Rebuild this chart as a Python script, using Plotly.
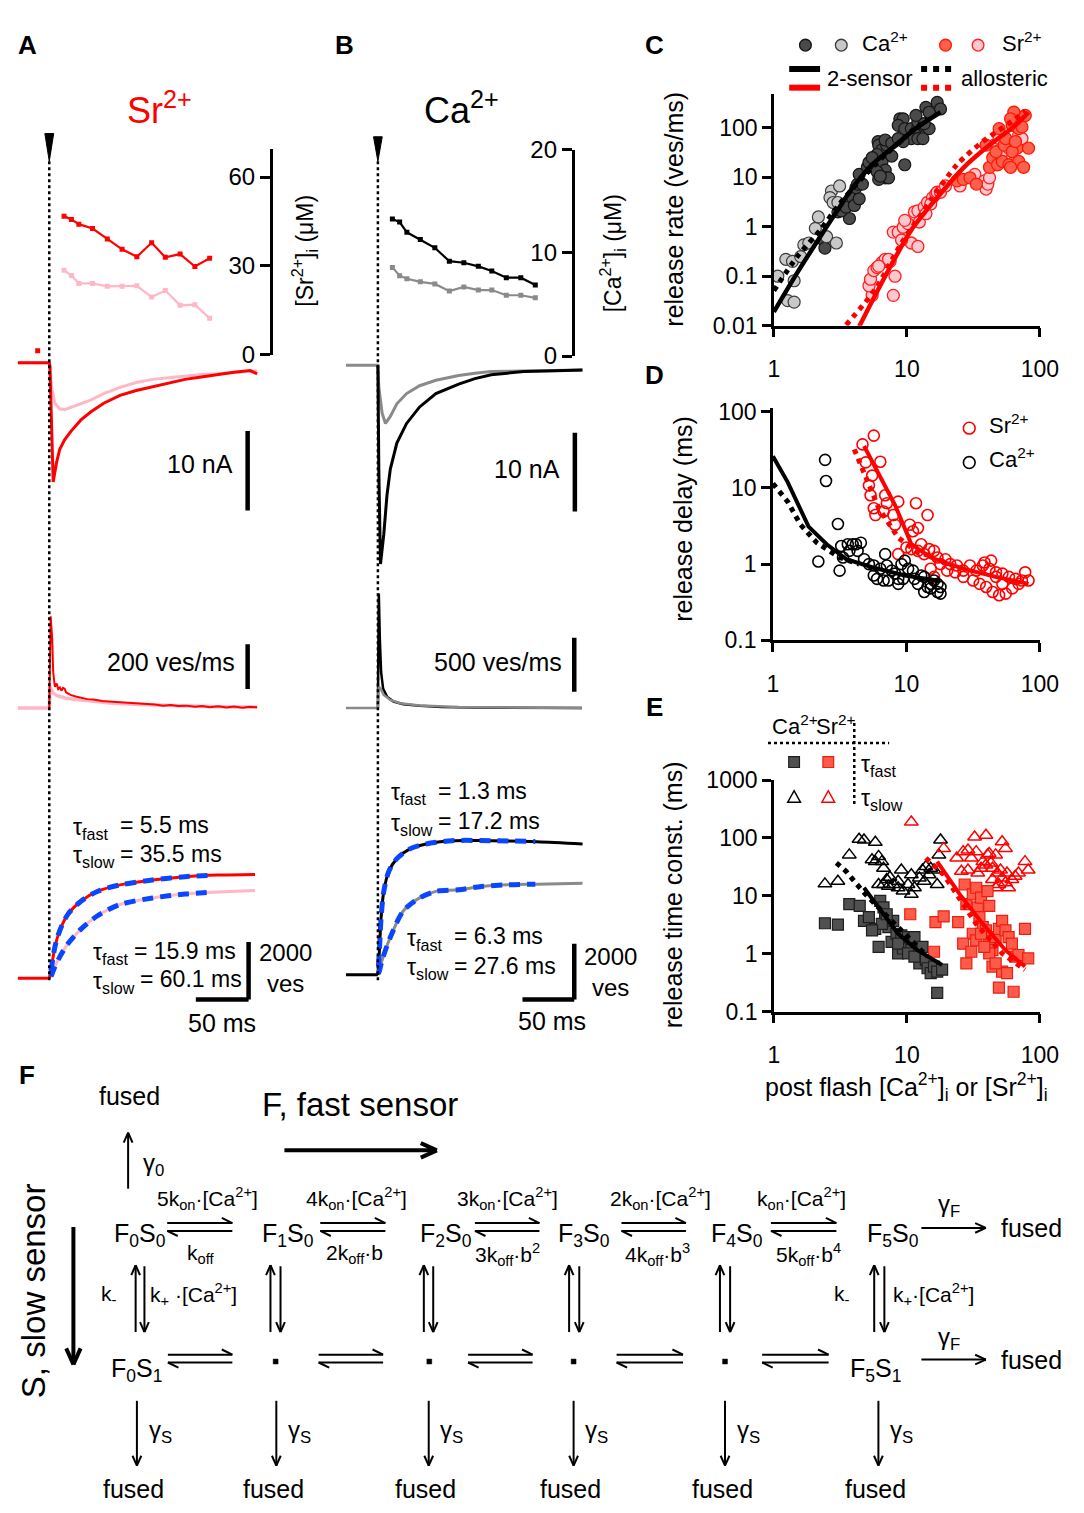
import math
import plotly.graph_objects as go

W, H = 1084, 1513
FONT = "Liberation Sans, Arial, Helvetica, sans-serif"
RED = "#ff0000"
PINK = "#ffb7c5"
GRAY = "#8a8a8a"
BLUE = "#0a46ff"

# ---------------- Panel A / B : [X2+]i time course (uM) ----------------
conc_t = [14, 21, 28, 41, 55, 69, 83, 97, 110, 124, 138, 152]
sr_conc_hi = [46.8, 45.7, 44.1, 42.6, 39.1, 35.6, 33.1, 37.8, 32.9, 34.0, 29.8, 32.6]
sr_conc_lo = [28.5, 26.8, 24.1, 24.1, 23.1, 23.1, 23.3, 19.5, 21.7, 16.7, 16.9, 12.3]
ca_conc_hi = [13.3, 13.0, 12.0, 11.3, 10.5, 9.2, 9.05, 8.7, 8.25, 7.6, 7.6, 6.9]
ca_conc_lo = [8.6, 7.8, 7.5, 7.2, 7.0, 6.3, 6.7, 6.4, 6.4, 5.9, 5.9, 5.65]

# ---------------- current traces (nA) ----------------
sr_cur_hi_t = [-30, 0, 0.6, 2.2, 3.7, 6.8, 9.9, 14.5, 20.7, 30, 39.2, 51.6, 67, 82.4, 97.9, 113.3, 128.7, 144.1, 159.6, 175, 190.4, 197]
sr_cur_hi = [0, 0, -0.5, -7.2, -15.0, -12.6, -10.9, -9.7, -8.6, -7.2, -6.2, -5.1, -4.1, -3.5, -3.0, -2.5, -2.1, -1.8, -1.5, -1.2, -1.0, -1.4]
sr_cur_lo_t = [-30, 0, 0.6, 2.2, 5.3, 9.9, 14.5, 20.7, 30, 39.2, 51.6, 67, 82.4, 97.9, 113.3, 128.7, 144.1, 159.6, 175, 197]
sr_cur_lo = [0, 0, -0.3, -3.1, -5.1, -5.8, -5.9, -5.6, -5.1, -4.7, -3.9, -3.1, -2.5, -2.1, -1.9, -1.7, -1.5, -1.4, -1.2, -1.0]
ca_cur_hi_t = [0, 0.9, 2.5, 5.7, 8.8, 12, 18.3, 27.7, 40.3, 56, 78, 93.7, 109.4, 140.9, 172.3, 197.5]
ca_cur_hi = [0, -13.2, -25.3, -21.5, -16.5, -13.2, -9.9, -7.4, -5.3, -3.6, -2.4, -1.7, -1.2, -0.8, -0.7, -0.6]
ca_cur_lo_t = [-31, 0, 0.9, 4.1, 7.3, 12, 18.3, 27.7, 40.3, 56, 78, 93.7, 109.4, 140.9, 197.5]
ca_cur_lo = [0, 0, -2.8, -6.1, -7.4, -6.5, -4.9, -3.6, -2.6, -1.9, -1.3, -1.0, -0.8, -0.7, -0.6]
pre_mark_t = [-11]
sr_pre_mark = [1.5]
ca_pre_mark = [2.4]

# ---------------- release rate traces (ves/ms) ----------------
sr_rate_hi_t = [0, 0.6, 1.3, 2.8, 3.7, 5.3, 7, 8.4, 10, 11.5, 13, 14.5, 16, 17.6, 20.7, 25, 30, 36, 42, 50, 60, 70, 80, 90, 100, 108, 115, 122, 130, 138, 145, 152, 160, 168, 175, 183, 190, 197]
sr_rate_hi = [0, 250, 410, 307, 161, 95, 110, 85, 92, 78, 90, 86, 70, 66, 58, 52, 45, 40, 38, 32, 28, 25, 20, 18, 16, 10, 14, 9, 11, 6, 9, 4, 8, 3, 7, 2, 6, 4]
sr_rate_lo_t = [-30, 0, 0.8, 2, 4, 8, 15, 25, 40, 60, 80, 100, 130, 160, 197]
sr_rate_lo = [0, 0, 95, 80, 65, 55, 45, 38, 30, 22, 17, 13, 9, 6, 4]
ca_rate_hi_t = [0, 0.9, 1.9, 3.1, 5, 8.8, 15.1, 24.5, 40.3, 62, 94, 141, 197]
ca_rate_hi = [0, 1061, 637, 334, 182, 106, 61, 36, 21, 9, 6, 2, 0]
ca_rate_lo_t = [-31, 0, 0.9, 2.5, 5.7, 12, 21.4, 40.3, 78, 120, 197]
ca_rate_lo = [0, 0, 197, 182, 121, 76, 45, 24, 9, 4, 0]

# ---------------- cumulative release (vesicles) ----------------
pre_t_sr = [-30, 0]
pre_t_ca = [-31, 0]
pre_zero = [0, 0]
sr_cum_hi_t = [0, 2.2, 5.3, 9.9, 17.6, 30, 45.4, 67, 97.9, 128.7, 159.6, 195]
sr_cum_hi = [0, 400, 1084, 1655, 2226, 2683, 3025, 3253, 3425, 3539, 3596, 3619]
sr_cum_lo_t = [0, 2.2, 5.3, 9.9, 17.6, 30, 45.4, 67, 97.9, 128.7, 159.6, 195]
sr_cum_lo = [0, 114, 400, 743, 1199, 1712, 2169, 2568, 2797, 2934, 3002, 3059]
sr_fit_t = [1.5, 2.2, 5.3, 9.9, 17.6, 30, 45.4, 67, 97.9, 128.7, 155]
sr_fit_hi = [260, 400, 1084, 1655, 2226, 2683, 3025, 3253, 3425, 3539, 3592]
sr_fit_lo = [60, 114, 400, 743, 1199, 1712, 2169, 2568, 2797, 2934, 2995]
ca_cum_hi_t = [0, 1.5, 3.1, 5.7, 10.4, 18.3, 30.9, 46.6, 71.8, 109.4, 153.6, 197.6]
ca_cum_hi = [0, 883, 2060, 3003, 3710, 4181, 4533, 4710, 4828, 4828, 4793, 4710]
ca_cum_lo_t = [0, 1.5, 4.1, 12, 24.5, 40.3, 56, 78, 100, 125.3, 153.6, 197.6]
ca_cum_lo = [0, 150, 530, 1355, 2297, 2768, 3003, 3062, 3180, 3239, 3262, 3297]
ca_fit_hi_t = [0.5, 1.5, 3.1, 5.7, 10.4, 18.3, 30.9, 46.6, 71.8, 109.4, 152]
ca_fit_hi = [300, 883, 2060, 3003, 3710, 4181, 4533, 4710, 4828, 4828, 4795]
ca_fit_lo_t = [0.5, 1.5, 4.1, 12, 24.5, 40.3, 56, 78, 100, 125.3, 152]
ca_fit_lo = [40, 150, 530, 1355, 2297, 2768, 3003, 3062, 3180, 3239, 3260]

# ---------------- Panel C : release rate vs post-flash concentration ----------------
ca_rate_dark_x = [2.36, 2.42, 3.70, 3.03, 3.21, 3.49, 3.91, 4.03, 4.38, 4.14, 4.26, 4.63, 4.38, 5.05, 5.19, 6.07, 6.14, 6.50, 7.06, 6.87, 5.97, 5.48, 6.50, 6.87, 5.97, 6.87, 6.14, 7.28, 6.31, 9.64, 7.69, 8.85, 9.38, 8.61, 9.64, 10.8, 12.1, 11.4, 10.8, 12.1, 13.2, 13.5, 14.7, 12.1, 13.5, 13.9, 16.9, 17.9, 14.7, 11.7, 9.38, 7.69, 8.61]
ca_rate_dark_y = [0.54, 0.37, 1.47, 2.0, 2.1, 2.5, 3.9, 2.7, 3.7, 6.2, 7.3, 7.3, 11.5, 16, 20, 53, 45, 36, 45, 57, 29, 25, 21, 14, 13, 9.8, 9.1, 9.8, 10.6, 18, 27, 153, 153, 113, 97, 97, 105, 77, 61, 61, 61, 113, 97, 131, 122, 261, 329, 242, 208, 179, 53, 49, 61]
ca_rate_light_x = [1.07, 1.23, 1.38, 1.42, 1.27, 1.42, 1.59, 1.68, 2.05, 2.16, 2.49, 2.95, 2.71, 3.12, 2.64, 2.79, 3.03, 1.83]
ca_rate_light_y = [0.10, 0.22, 0.20, 0.081, 0.032, 0.030, 0.25, 0.43, 0.93, 1.58, 0.63, 0.47, 5.3, 6.7, 3.9, 3.1, 3.1, 0.47]
sr_rate_pink_x = [5.48, 5.19, 5.33, 5.64, 5.97, 6.50, 6.87, 7.48, 7.91, 8.61, 9.38, 10.2, 10.8, 12.1, 11.4, 12.1, 13.5, 14.3, 15.6, 16.5, 16.9, 8.14, 7.91, 6.14, 7.28, 9.12, 9.64, 12.4, 13.9, 15.1, 17.9, 19.5, 25.1, 32.4, 38.4, 39.4, 40.6, 41.8, 49.4, 52.3, 58.5, 65.5, 69.3, 73.3, 45.4, 49.4]
sr_rate_pink_y = [0.041, 0.064, 0.087, 0.13, 0.15, 0.19, 0.22, 0.20, 0.78, 0.78, 0.98, 1.16, 0.47, 0.40, 2.0, 2.1, 2.5, 3.1, 3.9, 4.6, 5.0, 0.10, 0.041, 0.16, 0.22, 0.54, 1.35, 1.25, 1.84, 2.9, 5.0, 6.7, 6.7, 11.5, 8.5, 5.8, 7.3, 9.8, 21, 33, 39, 49, 72, 61, 45, 61]
sr_rate_red_x = [23.8, 26.6, 29.8, 33.3, 41.8, 44.2, 48.1, 52.3, 58.5, 46.8, 53.8, 61.9, 65.5, 69.3, 73.3, 77.6, 63.7, 60.2, 67.4, 82.1, 39.4, 55.3, 61.9, 69.3, 75.4, 60.2, 65.5, 49.4]
sr_rate_red_y = [8.5, 9.1, 9.8, 7.3, 16, 25, 18, 21, 18, 33, 45, 113, 131, 97, 105, 179, 208, 153, 39, 39, 45, 61, 33, 21, 16, 16, 53, 97]
ca_rate_fit2s_x = [1.0, 1.5, 2.23, 2.95, 3.91, 5.48, 7.69, 12.1, 17.9]
ca_rate_fit2s_y = [0.019, 0.118, 0.63, 1.99, 6.2, 18.1, 38.8, 105, 208]
ca_rate_allo_x = [1.0, 1.5, 2.23, 3.12, 4.63, 6.87, 10.8, 14.3]
ca_rate_allo_y = [0.051, 0.25, 0.86, 2.9, 9.8, 28.6, 83, 153]
sr_rate_fit2s_x = [4.38, 6.87, 10.8, 16.9, 26.6, 41.8, 65.5, 82.1]
sr_rate_fit2s_y = [0.0096, 0.10, 0.86, 3.9, 15.6, 45, 113, 208]
sr_rate_allo_x = [3.49, 5.8, 9.12, 15.1, 23.8, 37.2, 65.5, 77.6]
sr_rate_allo_y = [0.0103, 0.055, 0.47, 3.4, 18, 53, 153, 224]

# ---------------- Panel D : release delay ----------------
sr_delay_x = [4.69, 4.69, 5.70, 4.96, 6.38, 5.24, 5.54, 5.39, 5.70, 5.86, 6.94, 7.14, 8.69, 7.99, 6.75, 8.22, 8.69, 10.6, 11.2, 11.8, 12.2, 14.4, 10.9, 10.0, 12.9, 12.2, 13.6, 14.8, 16.1, 17.1, 18.0, 19.6, 21.3, 23.9, 26.7, 29.9, 33.4, 37.4, 41.9, 46.9, 52.4, 58.6, 65.6, 73.4, 82.2, 77.6, 26.7, 31.6, 35.4, 39.6, 44.3, 49.5, 55.5, 62.1, 69.4, 38.5, 43.1, 46.9, 52.4, 23.2, 20.2, 15.2, 16.1]
sr_delay_y = [116, 37.2, 48.5, 21.6, 22.0, 10.8, 14.5, 8.0, 5.4, 4.4, 8.0, 6.3, 6.6, 4.4, 4.9, 3.29, 1.35, 3.29, 2.70, 6.3, 2.98, 4.4, 1.57, 1.65, 1.82, 1.49, 1.35, 1.57, 1.49, 1.22, 1.0, 1.16, 1.0, 0.96, 0.82, 0.96, 0.82, 0.96, 0.87, 0.78, 0.75, 0.68, 0.64, 0.61, 0.61, 0.78, 0.68, 0.61, 0.55, 0.50, 0.43, 0.39, 0.41, 0.48, 0.55, 1.05, 1.11, 0.68, 0.55, 0.78, 0.82, 0.87, 0.68]
ca_delay_x = [2.46, 2.50, 3.07, 2.19, 3.16, 3.25, 3.64, 3.96, 4.19, 4.56, 4.31, 3.74, 3.35, 4.82, 5.24, 5.70, 6.03, 6.38, 6.94, 7.14, 7.77, 8.22, 8.69, 9.19, 9.72, 10.3, 11.2, 11.5, 12.2, 12.9, 13.6, 14.4, 15.2, 16.1, 17.1, 18.0, 13.6, 15.2, 17.1, 18.0, 6.75, 7.34, 8.69, 9.46, 5.70]
ca_delay_y = [23.3, 12.3, 3.36, 1.08, 0.82, 1.73, 1.82, 1.82, 1.82, 1.91, 1.49, 1.49, 1.22, 1.16, 1.0, 0.96, 0.64, 0.87, 1.35, 0.96, 0.82, 0.75, 0.64, 1.0, 1.11, 0.87, 0.82, 0.64, 0.55, 0.71, 0.68, 0.50, 0.55, 0.61, 0.55, 0.50, 0.43, 0.48, 0.43, 0.41, 0.61, 0.61, 0.55, 0.64, 0.71]
ca_delay_fit2s_x = [1.0, 1.29, 1.85, 2.53, 3.54, 5.54, 9.72, 18.0]
ca_delay_fit2s_y = [26, 11.9, 3.1, 1.82, 1.16, 0.91, 0.71, 0.60]
ca_delay_allo_x = [1.0, 1.29, 1.61, 2.13, 3.16, 4.43]
ca_delay_allo_y = [11.4, 6.6, 3.29, 1.91, 1.22, 1.0]
sr_delay_fit2s_x = [4.82, 6.21, 8.22, 10.9, 15.2, 26.7, 46.9, 82.2]
sr_delay_fit2s_y = [35.4, 15.2, 5.96, 1.82, 1.22, 0.87, 0.68, 0.55]
sr_delay_allo_x = [4.07, 4.96, 6.21, 8.69, 12.2, 15.2]
sr_delay_allo_y = [32, 14.5, 5.4, 2.22, 1.41, 1.29]

# ---------------- Panel E : release time constants ----------------
ca_tslow_x = [2.42, 3.03, 3.69, 4.37, 4.76, 5.79, 5.79, 6.13, 5.47, 6.48, 6.67, 6.13, 6.67, 7.05, 7.46, 7.89, 8.59, 9.08, 9.35, 10.2, 10.8, 11.4, 12.4, 13.1, 13.9, 14.7, 15.1, 16.0, 16.9, 17.4, 17.9, 13.5, 10.8, 7.26, 8.59]
ca_tslow_y = [16.1, 17.9, 51, 95, 92, 84, 39, 48, 42, 39, 30, 15.7, 15.7, 19.1, 21, 15.7, 17.9, 28, 12.1, 15.7, 23.2, 13.8, 20.4, 28, 32, 23.2, 30, 28, 15.7, 51, 92, 17.9, 10.6, 14.7, 13.8]
sr_tslow_x = [10.8, 18.9, 23.7, 26.5, 28.8, 32.3, 39.3, 33.2, 41.6, 37.2, 46.5, 52.0, 55.1, 77.3, 81.7, 25.7, 28.8, 34.1, 39.3, 44.0, 47.9, 52.0, 55.1, 58.2, 61.6, 65.2, 69.0, 44.0, 49.2, 40.4, 30.5, 36.1, 42.8, 50.6, 56.6, 46.5]
sr_tslow_y = [188, 66, 45, 58, 62, 104, 111, 58, 54, 39, 51, 86, 66, 39, 28, 26.5, 28, 24.8, 34, 30, 24.8, 20.4, 16.8, 13.8, 19.1, 21.8, 24.8, 19.1, 15.7, 51, 45, 30, 37, 28, 24.8, 13.8]
ca_tfast_x = [2.42, 3.03, 3.69, 4.42, 4.76, 5.18, 5.79, 6.13, 6.30, 6.67, 6.86, 7.26, 7.67, 7.89, 8.35, 8.59, 9.08, 9.35, 10.2, 10.8, 11.4, 12.0, 12.4, 13.1, 13.9, 14.3, 15.1, 16.0, 16.9, 18.4, 16.9, 6.48, 5.47, 7.05, 8.59, 10.2, 11.4]
ca_tfast_y = [3.36, 3.19, 7.2, 6.7, 3.7, 4.3, 2.69, 1.31, 8.2, 6.3, 4.3, 2.87, 1.60, 3.7, 2.21, 1.01, 2.07, 1.23, 1.94, 1.15, 1.94, 1.01, 0.68, 1.31, 0.78, 0.56, 0.46, 0.60, 0.49, 0.53, 0.21, 3.27, 2.52, 4.8, 1.49, 1.01, 0.89]
sr_tfast_x = [10.6, 16.4, 18.9, 16.0, 24.3, 27.2, 28.0, 31.3, 33.2, 34.1, 36.1, 40.4, 41.6, 35.1, 37.2, 31.3, 26.5, 28.0, 30.5, 33.2, 39.3, 41.6, 44.0, 46.5, 49.2, 52.0, 55.1, 58.2, 61.6, 65.2, 69.0, 77.3, 81.7, 41.6, 44.0, 52.0, 56.6, 49.2, 63.4, 46.5, 38.2, 36.1]
sr_tfast_y = [4.8, 3.5, 4.4, 1.08, 3.5, 15.7, 7.2, 10.6, 13.8, 6.3, 9.3, 12.1, 6.7, 4.3, 2.87, 2.21, 1.49, 0.68, 1.08, 1.70, 2.52, 1.49, 1.15, 1.94, 2.69, 3.7, 2.52, 1.94, 1.49, 0.89, 0.95, 2.69, 0.83, 1.01, 0.60, 0.49, 0.46, 0.26, 0.22, 0.68, 1.31, 2.21]
ca_tau_fit2s_x = [4.76, 6.13, 8.59, 12.0, 18.4]
ca_tau_fit2s_y = [13.8, 6.3, 2.21, 1.15, 0.64]
ca_tau_allo_x = [2.95, 3.49, 4.02, 4.89, 6.86, 10.8, 14.3]
ca_tau_allo_y = [37, 26.5, 17.9, 10.6, 4.8, 1.70, 0.89]
sr_tau_fit2s_x = [16.9, 25.0, 37.2, 55.1, 77.3]
sr_tau_fit2s_y = [39, 10.6, 3.27, 1.15, 0.60]
sr_tau_allo_x = [13.9, 18.9, 23.7, 33.2, 52.0, 77.3]
sr_tau_allo_y = [45, 23.2, 10.6, 3.27, 1.01, 0.53]

log_ticks = [0.01, 0.1, 1, 10, 100, 1000]
log_tick_text = ["0.01", "0.1", "1", "10", "100", "1000"]

# =====================================================================
fig = go.Figure()


def add_line(x, y, xa, ya, color, width, dash=None, shape="linear"):
    ln = dict(color=color, width=width, shape=shape)
    if shape == "spline":
        ln["smoothing"] = 0.8
    if dash:
        ln["dash"] = dash
    fig.add_trace(go.Scatter(x=x, y=y, xaxis=xa, yaxis=ya, mode="lines", line=ln, hoverinfo="skip"))


def add_pts(x, y, xa, ya, symbol, size, fill, edge, lw):
    fig.add_trace(go.Scatter(x=x, y=y, xaxis=xa, yaxis=ya, mode="markers", cliponaxis=False,
                             marker=dict(symbol=symbol, size=size, color=fill, line=dict(color=edge, width=lw)),
                             hoverinfo="skip"))


def add_conc(x, y, ya, color):
    fig.add_trace(go.Scatter(x=x, y=y, xaxis="x" if ya == "y" else "x2", yaxis=ya, mode="lines+markers",
                             line=dict(color=color, width=2.2),
                             marker=dict(symbol="square", size=5, color=color), hoverinfo="skip"))


# ---- Panel A (Sr) ----
add_conc(conc_t, sr_conc_lo, "y", PINK)
add_conc(conc_t, sr_conc_hi, "y", RED)
add_line(sr_cur_lo_t, sr_cur_lo, "x", "y2", PINK, 3)
add_line(sr_cur_hi_t, sr_cur_hi, "x", "y2", RED, 3)
add_pts(pre_mark_t, sr_pre_mark, "x", "y2", "square", 5, RED, RED, 0)
add_line(sr_rate_lo_t, sr_rate_lo, "x", "y3", PINK, 3.5)
add_line(sr_rate_hi_t, sr_rate_hi, "x", "y3", RED, 2)
add_line(sr_cum_lo_t, sr_cum_lo, "x", "y4", PINK, 3, shape="spline")
add_line(pre_t_sr, pre_zero, "x", "y4", RED, 3)
add_line(sr_cum_hi_t, sr_cum_hi, "x", "y4", RED, 3, shape="spline")
add_line(sr_fit_t, sr_fit_hi, "x", "y4", BLUE, 5, dash="11px,7px", shape="spline")
add_line(sr_fit_t, sr_fit_lo, "x", "y4", BLUE, 5, dash="11px,7px", shape="spline")

# ---- Panel B (Ca) ----
add_conc(conc_t, ca_conc_lo, "y5", GRAY)
add_conc(conc_t, ca_conc_hi, "y5", "black")
add_line(ca_cur_lo_t, ca_cur_lo, "x2", "y6", GRAY, 3)
add_line(ca_cur_hi_t, ca_cur_hi, "x2", "y6", "black", 3)
add_pts(pre_mark_t, ca_pre_mark, "x2", "y6", "square", 5, GRAY, GRAY, 0)
add_line(ca_rate_hi_t, ca_rate_hi, "x2", "y7", "black", 2.5)
add_line(ca_rate_lo_t, ca_rate_lo, "x2", "y7", GRAY, 2.5)
add_line(ca_cum_lo_t, ca_cum_lo, "x2", "y8", GRAY, 3, shape="spline")
add_line(pre_t_ca, pre_zero, "x2", "y8", "black", 3)
add_line(ca_cum_hi_t, ca_cum_hi, "x2", "y8", "black", 3, shape="spline")
add_line(ca_fit_hi_t, ca_fit_hi, "x2", "y8", BLUE, 5, dash="11px,7px", shape="spline")
add_line(ca_fit_lo_t, ca_fit_lo, "x2", "y8", BLUE, 5, dash="11px,7px", shape="spline")

# ---- Panel C ----
DARK_F, DARK_E = "#4a4a4a", "#151515"
LIGHT_F, LIGHT_E = "#c8c8c8", "#3c3c3c"
SRR_F, SRR_E = "#ff5f4f", "#ff1a00"
SRP_F, SRP_E = "#ffc8cf", "#ff2020"
add_pts(ca_rate_dark_x, ca_rate_dark_y, "x3", "y9", "circle", 12, DARK_F, DARK_E, 1.2)
add_pts(ca_rate_light_x, ca_rate_light_y, "x3", "y9", "circle", 12, LIGHT_F, LIGHT_E, 1.2)
add_pts(sr_rate_pink_x, sr_rate_pink_y, "x3", "y9", "circle", 12, SRP_F, SRP_E, 1.3)
add_pts(sr_rate_red_x, sr_rate_red_y, "x3", "y9", "circle", 12, SRR_F, SRR_E, 1.3)
add_line(ca_rate_fit2s_x, ca_rate_fit2s_y, "x3", "y9", "black", 4.5, shape="spline")
add_line(ca_rate_allo_x, ca_rate_allo_y, "x3", "y9", "black", 5, dash="dot", shape="spline")
add_line(sr_rate_fit2s_x, sr_rate_fit2s_y, "x3", "y9", RED, 4.5, shape="spline")
add_line(sr_rate_allo_x, sr_rate_allo_y, "x3", "y9", RED, 5, dash="dot", shape="spline")

# ---- Panel D ----
add_pts(sr_delay_x, sr_delay_y, "x4", "y10", "circle-open", 11, RED, RED, 1.6)
add_pts(ca_delay_x, ca_delay_y, "x4", "y10", "circle-open", 11, "black", "black", 1.6)
add_line(ca_delay_fit2s_x, ca_delay_fit2s_y, "x4", "y10", "black", 4)
add_line(ca_delay_allo_x, ca_delay_allo_y, "x4", "y10", "black", 5, dash="dot")
add_line(sr_delay_fit2s_x, sr_delay_fit2s_y, "x4", "y10", RED, 4)
add_line(sr_delay_allo_x, sr_delay_allo_y, "x4", "y10", RED, 5, dash="dot")

# ---- Panel E ----
add_pts(ca_tslow_x, ca_tslow_y, "x5", "y11", "triangle-up-open", 12, "black", "black", 1.5)
add_pts(sr_tslow_x, sr_tslow_y, "x5", "y11", "triangle-up-open", 12, RED, RED, 1.5)
add_pts(ca_tfast_x, ca_tfast_y, "x5", "y11", "square", 11, "#505050", "#1e1e1e", 1.2)
add_pts(sr_tfast_x, sr_tfast_y, "x5", "y11", "square", 11, "#ff5a4a", "#e82010", 1.2)
add_line(ca_tau_allo_x, ca_tau_allo_y, "x5", "y11", "black", 5, dash="dot")
add_line(ca_tau_fit2s_x, ca_tau_fit2s_y, "x5", "y11", "black", 4)
add_line(sr_tau_allo_x, sr_tau_allo_y, "x5", "y11", RED, 5, dash="dot")
add_line(sr_tau_fit2s_x, sr_tau_fit2s_y, "x5", "y11", RED, 4)

# =====================================================================
shapes = []
annotations = []


def P(x, y):
    return x / W, 1 - y / H


def seg(x0, y0, x1, y1, w=2.0, color="black", dash=None):
    a, b = P(x0, y0)
    c, d = P(x1, y1)
    ln = dict(color=color, width=w)
    if dash:
        ln["dash"] = dash
    shapes.append(dict(type="line", xref="paper", yref="paper", x0=a, y0=b, x1=c, y1=d, line=ln))


def arrow(x0, y0, x1, y1, w=2.0, head=10, spread=0.42, barbs=(1, 1)):
    seg(x0, y0, x1, y1, w)
    ang = math.atan2(y1 - y0, x1 - x0)
    for s, b in zip((1, -1), barbs):
        if b:
            a = ang + math.pi - s * spread
            seg(x1, y1, x1 + head * math.cos(a), y1 + head * math.sin(a), w)


def harpoons(x0, x1, yt, yb):
    arrow(x0, yt, x1, yt, 2.0, 12, 0.45, barbs=(0, 1))
    arrow(x1, yb, x0, yb, 2.0, 12, 0.45, barbs=(0, 1))


def txt(x, y, s, size=24, color="black", xanchor="center", yanchor="middle", angle=0, align="center"):
    a, b = P(x, y)
    annotations.append(dict(x=a, y=b, xref="paper", yref="paper", text=s, showarrow=False,
                            font=dict(size=size, color=color, family=FONT), align=align,
                            xanchor=xanchor, yanchor=yanchor, textangle=angle))


def circ(x, y, r, fill, edge, lw=1.3):
    a, b = P(x - r, y + r)
    c, d = P(x + r, y - r)
    shapes.append(dict(type="circle", xref="paper", yref="paper", x0=a, y0=b, x1=c, y1=d,
                       fillcolor=fill, line=dict(color=edge, width=lw)))


def rect(x, y, r, fill, edge, lw=1.2):
    a, b = P(x - r, y + r)
    c, d = P(x + r, y - r)
    shapes.append(dict(type="rect", xref="paper", yref="paper", x0=a, y0=b, x1=c, y1=d,
                       fillcolor=fill, line=dict(color=edge, width=lw)))


def tri(x, y, r, edge):
    pts = [P(x - r, y + r * 0.8), P(x + r, y + r * 0.8), P(x, y - r)]
    path = "M {:.5f},{:.5f} L {:.5f},{:.5f} L {:.5f},{:.5f} Z".format(*pts[0], *pts[1], *pts[2])
    shapes.append(dict(type="path", xref="paper", yref="paper", path=path, line=dict(color=edge, width=1.5)))


# ---- flash markers (time 0) ----
for xr, ytop in (("x", 121.7), ("x2", 125)):
    yb = 1 - 150 / H
    yt = 1 - ytop / H
    shapes.append(dict(type="path", xref=xr, yref="paper",
                       path="M -4.2,{0:.5f} L 4.2,{0:.5f} L 0,{1:.5f} Z".format(yt, yb),
                       fillcolor="black", line=dict(color="black", width=1)))
    shapes.append(dict(type="line", xref=xr, yref="paper", x0=0, x1=0, y0=yb, y1=1 - 985 / H,
                       line=dict(color="black", width=2.5, dash="dot")))


def bar(xr, yr, x0, y0, x1, y1, w=4.5):
    shapes.append(dict(type="line", xref=xr, yref=yr, x0=x0, y0=y0, x1=x1, y1=y1,
                       line=dict(color="black", width=w)))


# scale bars (10 nA, 200/500 ves/ms, 2000 ves, 50 ms)
bar("x", "y2", 188, -8.6, 188, -18.6)
bar("x", "y3", 188, 85, 188, 285)
bar("x", "y4", 188.9, -740, 188.9, 1260)
bar("x", "y4", 138.9, -740, 188.9, -740)
bar("x2", "y6", 190.2, -8.6, 190.2, -18.6)
bar("x2", "y7", 189.6, 152, 189.6, 652)
bar("x2", "y8", 189.6, -883, 189.6, 1117)
bar("x2", "y8", 139.6, -883, 189.6, -883)

# ---- panel A/B texts ----
txt(157, 96, "Sr<sup>2+</sup>", 36, RED)
txt(466, 96, "Ca<sup>2+</sup>", 36)
txt(305, 241, "[Sr<sup>2+</sup>]<sub>i</sub> (μM)", 23, angle=-90)
txt(620, 244, "[Ca<sup>2+</sup>]<sub>i</sub> (μM)", 23, angle=-90)
txt(199, 458, "10 nA", 25)
txt(533, 463, "10 nA", 25)
txt(169, 660, "200 ves/ms", 25)
txt(504, 660, "500 ves/ms", 25)
for (xt, xe, y, tau, val) in [
    (66.7, 115, 826, "τ<sub>fast</sub>", "= 5.5 ms"),
    (66.7, 115, 855, "τ<sub>slow</sub>", "= 35.5 ms"),
    (87, 129, 954, "τ<sub>fast</sub>", "= 15.9 ms"),
    (87, 135, 983, "τ<sub>slow</sub>", "= 60.1 ms"),
    (391.7, 440, 791, "τ<sub>fast</sub>", "= 1.3 ms"),
    (391.7, 440, 822, "τ<sub>slow</sub>", "= 17.2 ms"),
    (408.3, 456.7, 939, "τ<sub>fast</sub>", "= 6.3 ms"),
    (408.3, 456.7, 969, "τ<sub>slow</sub>", "= 27.6 ms"),
]:
    txt(xt, y + 3, tau, 23, xanchor="left")
    txt(xe, y, val, 23, xanchor="left")
txt(286, 971, "2000<br>ves", 24)
txt(619, 975, "2000<br>ves", 24)
txt(221, 1027, "50 ms", 25)
txt(559, 1025, "50 ms", 25)

# panel letters
for lab, x, y in (("A", 22, 32), ("B", 346, 32), ("C", 664, 32), ("D", 664, 368), ("E", 664, 706), ("F", 22, 1080)):
    txt(x, y, "<b>%s</b>" % lab, 26)

# ---- C legend & titles ----
circ(818.3, 31.7, 6, DARK_F, DARK_E)
circ(855, 31.7, 6, LIGHT_F, LIGHT_E)
circ(961.7, 31.7, 6, SRR_F, SRR_E)
circ(995, 31.7, 6, SRP_F, SRP_E)
txt(874, 28, "Ca<sup>2+</sup>", 22, xanchor="left")
txt(1017, 28, "Sr<sup>2+</sup>", 22, xanchor="left")
seg(801.7, 56, 833.3, 56, 6)
seg(801.7, 75, 833.3, 75, 6, RED)
seg(936.7, 56, 968, 56, 6, "black", "dot")
seg(936.7, 75, 968, 75, 6, RED, "dot")
txt(838, 66, "2-sensor", 22, xanchor="left")
txt(975, 66, "allosteric", 22, xanchor="left")
txt(684, 199, "release rate (ves/ms)", 25, angle=-90)

# ---- D legend & title ----
circ(986, 421.7, 6, "rgba(0,0,0,0)", RED, 1.6)
circ(986, 456.7, 6, "rgba(0,0,0,0)", "black", 1.6)
txt(1004, 417, "Sr<sup>2+</sup>", 22, xanchor="left")
txt(1004, 452, "Ca<sup>2+</sup>", 22, xanchor="left")
txt(693, 514, "release delay (ms)", 25, angle=-90)

# ---- E legend & titles ----
txt(782, 724, "Ca<sup>2+</sup>", 22, xanchor="left")
txt(827, 724, "Sr<sup>2+</sup>", 22, xanchor="left")
seg(780, 742.3, 904, 742.3, 2.5, "black", "dot")
seg(868.3, 722, 868.3, 807, 2.5, "black", "dot")
rect(806.7, 761.7, 5.5, "#505050", "#1e1e1e")
rect(841.7, 761.7, 5.5, "#ff5a4a", "#e82010")
tri(806.7, 797.3, 6.5, "black")
tri(841.7, 797.3, 6.5, RED)
txt(873, 765, "τ<sub>fast</sub>", 23, xanchor="left")
txt(873, 800, "τ<sub>slow</sub>", 23, xanchor="left")
txt(683, 897, "release time const. (ms)", 25, angle=-90)
txt(921.7, 1093, "post flash [Ca<sup>2+</sup>]<sub>i</sub> or [Sr<sup>2+</sup>]<sub>i</sub>", 25)

# ---- Panel F: kinetic scheme ----
txt(126, 1102, "fused", 25)
arrow(125, 1196, 125, 1139, 2.0, 11)
txt(138, 1171, "γ<sub>0</sub>", 24, xanchor="left")
txt(362, 1110, "F, fast sensor", 33)
arrow(285, 1157, 441, 1157, 4, 18, 0.42)
txt(28, 1300, "S, slow sensor", 33, angle=-90)
arrow(69, 1235, 69, 1375, 4, 18, 0.42)

for s, x in (("F<sub>0</sub>S<sub>0</sub>", 136.7), ("F<sub>1</sub>S<sub>0</sub>", 288.3),
             ("F<sub>2</sub>S<sub>0</sub>", 450), ("F<sub>3</sub>S<sub>0</sub>", 592),
             ("F<sub>4</sub>S<sub>0</sub>", 748), ("F<sub>5</sub>S<sub>0</sub>", 908)):
    txt(x, 1243, s, 25)
txt(133.3, 1381, "F<sub>0</sub>S<sub>1</sub>", 25)
txt(890.5, 1381, "F<sub>5</sub>S<sub>1</sub>", 25)
for x in (276, 433.3, 581, 736):
    rect(x, 1372, 2.5, "black", "black", 0.5)

for x0, x1 in ((165, 231.7), (321.7, 388.3), (480, 546), (630, 696), (783, 850)):
    harpoons(x0, x1, 1231, 1239)
for x0, x1 in ((165.7, 231.7), (320, 386), (473, 539), (625, 693), (774, 842)):
    harpoons(x0, x1, 1365, 1373)

for s, x in (("5k<sub>on</sub>·[Ca<sup>2+</sup>]", 206.7), ("4k<sub>on</sub>·[Ca<sup>2+</sup>]", 358.3),
             ("3k<sub>on</sub>·[Ca<sup>2+</sup>]", 513), ("2k<sub>on</sub>·[Ca<sup>2+</sup>]", 670),
             ("k<sub>on</sub>·[Ca<sup>2+</sup>]", 814)):
    txt(x, 1206, s, 21)
for s, x in (("k<sub>off</sub>", 199.3), ("2k<sub>off</sub>·b", 356.7), ("3k<sub>off</sub>·b<sup>2</sup>", 513),
             ("4k<sub>off</sub>·b<sup>3</sup>", 666.6), ("5k<sub>off</sub>·b<sup>4</sup>", 821)):
    txt(x, 1263, s, 21)

for xu, xd_ in ((132.7, 141.7), (270.7, 281), (427.7, 437.3), (576.4, 586.8), (730.8, 741.2), (888.7, 899.1)):
    arrow(xu, 1342, xu, 1274, 2.0, 11)
    arrow(xd_, 1275, xd_, 1342, 2.0, 11)
txt(105, 1304, "k<sub>-</sub>", 21)
txt(191.7, 1304, "k<sub>+</sub> ·[Ca<sup>2+</sup>]", 21)
txt(856, 1304, "k<sub>-</sub>", 21)
txt(949, 1304, "k<sub>+</sub>·[Ca<sup>2+</sup>]", 21)

arrow(937, 1236, 1003, 1236, 2.0, 12)
arrow(937, 1370, 1003, 1370, 2.0, 12)
txt(965, 1213, "γ<sub>F</sub>", 24)
txt(965, 1349, "γ<sub>F</sub>", 24)
txt(1050, 1236, "fused", 25)
txt(1050, 1370, "fused", 25)

for x in (134, 276.7, 432.7, 581, 736, 893):
    arrow(x, 1412, x, 1478, 2.0, 11)
    txt(x + 10, 1443, "γ<sub>S</sub>", 24, xanchor="left")
    txt(x - 3, 1502, "fused", 25)

# =====================================================================


def xd(l, r):
    return [l / W, r / W]


def yd(top, bot):
    return [1 - bot / H, 1 - top / H]


def hidden(domain, rng, anchor):
    return dict(domain=domain, range=rng, anchor=anchor, visible=False, showgrid=False,
                zeroline=False, fixedrange=True)


def conc_axis(domain, rng, pos, vals):
    return dict(domain=domain, range=rng, anchor="free", position=pos / W, side="left",
                showline=True, linecolor="black", linewidth=2.5, ticks="outside", ticklen=10,
                tickwidth=2.5, tickcolor="black", tickvals=vals, ticktext=[str(v) for v in vals],
                tickfont=dict(size=24, family=FONT, color="black"), showgrid=False, zeroline=False,
                fixedrange=True)


def log_axis(domain, rng, anchor, lo, hi, is_x=False):
    vals = [v for v in log_ticks if lo <= v <= hi]
    txts = [log_tick_text[log_ticks.index(v)] for v in vals]
    d = dict(domain=domain, range=rng, anchor=anchor, type="log", showline=True, linecolor="black",
             linewidth=2.5, ticks="outside", ticklen=9, tickwidth=2.5, tickcolor="black",
             tickvals=vals, ticktext=txts, tickfont=dict(size=23, family=FONT, color="black"),
             showgrid=False, zeroline=False, fixedrange=True)
    if is_x:
        d["ticklabelstandoff"] = 12
    return d


layout = dict(
    width=W, height=H, margin=dict(l=0, r=0, t=0, b=0), autosize=False,
    paper_bgcolor="white", plot_bgcolor="rgba(0,0,0,0)", showlegend=False,
    font=dict(family=FONT, size=24, color="black"),
    xaxis=hidden(xd(11.9, 260.3), [-30, 200], "y2"),
    xaxis2=hidden(xd(347.8, 592.7), [-31, 200], "y6"),
    xaxis3=log_axis(xd(786, 1058.3), [0, 2], "y9", 1, 100, True),
    xaxis4=log_axis(xd(785, 1058.3), [0, 2], "y10", 1, 100, True),
    xaxis5=log_axis(xd(786, 1058.3), [0, 2], "y11", 1, 100, True),
    yaxis=conc_axis(yd(137, 347), [0, 69.6], 271, [0, 30, 60]),
    yaxis2=hidden(yd(340, 600), [-30.25, 1.852], "x"),
    yaxis3=hidden(yd(590, 720), [-58.3, 511.8], "x"),
    yaxis4=hidden(yd(830, 1015), [-1140, 5195], "x"),
    yaxis5=conc_axis(yd(138.3, 348.3), [0, 20], 580, [0, 10, 20]),
    yaxis6=hidden(yd(340, 600), [-30.29, 2.21], "x2"),
    yaxis7=hidden(yd(575, 720), [-120.9, 1197], "x2"),
    yaxis8=hidden(yd(820, 1015), [-1297, 5594], "x2"),
    yaxis9=log_axis(yd(81.7, 317.3), [-2, 2.682], "x3", 0.01, 100),
    yaxis10=log_axis(yd(400.7, 637.7), [-1, 2.054], "x4", 0.1, 100),
    yaxis11=log_axis(yd(780, 1015.7), [-1, 3], "x5", 0.1, 1000),
    shapes=shapes,
    annotations=annotations,
)
fig.update_layout(**layout)
fig.write_html("out.html")
